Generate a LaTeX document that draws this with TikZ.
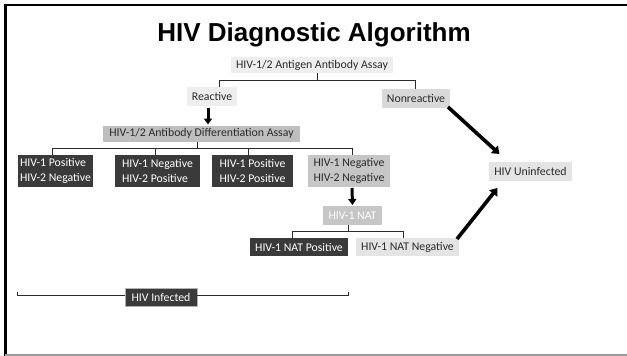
\documentclass[tikz,border=0pt]{standalone}
\usepackage{fontspec}
\setmainfont{Carlito}
\newfontfamily\titlefont{Liberation Sans}
\usetikzlibrary{arrows.meta}
\definecolor{boxdark}{HTML}{3A3A3A}
\definecolor{boxmid}{HTML}{BEBEBE}
\definecolor{boxgray}{HTML}{C6C6C6}
\definecolor{boxsoft}{HTML}{D9D9D9}
\definecolor{boxpale}{HTML}{E4E4E4}
\definecolor{boxfaint}{HTML}{EEEEEE}
\definecolor{ink}{HTML}{2B2B2B}
\tikzset{
  box/.style={rectangle, inner sep=0pt, outer sep=0pt, text=ink,
    font=\fontsize{11.8}{14.5}\selectfont, anchor=center},
  darkbox/.style={box, fill=boxdark, text=white},
  twoline/.style={align=left, minimum height=32pt},
  bracket/.style={draw=ink, line width=1pt},
  bigarrow/.style={draw=black, line width=3.6pt,
    -{Triangle[length=7pt,width=10pt]}},
  smallarrow/.style={draw=black, line width=3pt,
    -{Triangle[length=6pt,width=8pt]}}
}
\begin{document}
\begin{tikzpicture}[x=1pt,y=-1pt]
  \useasboundingbox (0,0) rectangle (627,356);
  % slide frame
  \fill[white] (0,0) rectangle (627,356);
  \draw[black, line width=2.6pt] (5.5,5) -- (627,5);
  \draw[black, line width=2.6pt] (5.5,4) -- (5.5,356);
  \draw[gray!80, line width=1.2pt] (5,355) -- (627,355);

  % title
  \node[font=\titlefont\bfseries\fontsize{26}{30}\selectfont, anchor=center]
    (title) at (314,35) {HIV Diagnostic Algorithm};

  % boxes
  \node[box, fill=boxfaint, minimum width=162pt, minimum height=16pt]
    (ag) at (312,65) {HIV-1/2 Antigen Antibody Assay};
  \node[box, fill=boxfaint, minimum width=50pt, minimum height=19pt]
    (react) at (212,96.5) {Reactive};
  \node[box, fill=boxsoft, minimum width=68pt, minimum height=19pt]
    (nonr) at (416,98.5) {Nonreactive};
  \node[box, fill=boxmid, minimum width=197pt, minimum height=16pt]
    (diff) at (201.5,133.5) {HIV-1/2 Antibody Differentiation Assay};

  \node[darkbox, twoline, minimum width=75pt] (b1) at (55.5,171)
    {HIV-1 Positive\\HIV-2 Negative};
  \node[darkbox, twoline, minimum width=85pt] (b2) at (157.5,171)
    {HIV-1 Negative\\HIV-2 Positive};
  \node[darkbox, twoline, minimum width=81pt] (b3) at (252.5,171)
    {HIV-1 Positive\\HIV-2 Positive};
  \node[box, fill=boxgray, twoline, minimum width=82pt] (b4) at (349,171)
    {HIV-1 Negative\\HIV-2 Negative};

  \node[box, fill=boxgray, text=white, minimum width=59pt, minimum height=19pt]
    (nat) at (352.5,215.5) {HIV-1 NAT};
  \node[darkbox, minimum width=98pt, minimum height=18pt]
    (natp) at (299,247) {HIV-1 NAT Positive};
  \node[box, fill=boxpale, minimum width=103pt, minimum height=18pt]
    (natn) at (407.5,247) {HIV-1 NAT Negative};

  \node[box, fill=boxpale, minimum width=83pt, minimum height=19pt]
    (unin) at (530.5,171.5) {HIV Uninfected};

  % bracket under the first assay
  \coordinate (j1) at (317,80);
  \coordinate (j1l) at (219,80);
  \coordinate (j1r) at (415,80);
  \draw[bracket] (ag.south -| j1) -- (j1);
  \draw[bracket] (react.north -| j1l) -- (j1l) -- (j1r) -- (nonr.north -| j1r);

  % bracket under the differentiation assay
  \coordinate (j2) at (197,148);
  \coordinate (j2a) at (52,148);
  \coordinate (j2b) at (155,148);
  \coordinate (j2c) at (248,148);
  \coordinate (j2d) at (352,148);
  \draw[bracket] (diff.south -| j2) -- (j2);
  \draw[bracket] (b1.north -| j2a) -- (j2a) -- (j2d) -- (b4.north -| j2d);
  \draw[bracket] (j2b) -- (b2.north -| j2b);
  \draw[bracket] (j2c) -- (b3.north -| j2c);

  % bracket under the NAT
  \coordinate (j3) at (348,231);
  \coordinate (j3l) at (292,231);
  \coordinate (j3r) at (403,231);
  \draw[bracket] (nat.south -| j3) -- (j3);
  \draw[bracket] (natp.north -| j3l) -- (j3l) -- (j3r) -- (natn.north -| j3r);

  % arrows
  \draw[smallarrow] ([xshift=-4pt,yshift=-2pt]react.south) -- ([xshift=6.5pt,yshift=1pt]diff.north);
  \draw[smallarrow] ([xshift=3pt,yshift=-1pt]b4.south) -- ([yshift=1pt]nat.north);
  \draw[bigarrow] ([xshift=-2pt,yshift=1pt]nonr.south east) -- ([xshift=-31pt,yshift=8pt]unin.north);
  \draw[bigarrow] ([xshift=-2pt,yshift=8pt]natn.east) -- ([xshift=-33pt,yshift=-7pt]unin.south);

  % span of infected results
  \node[darkbox, draw=gray!60, line width=0.6pt, minimum width=72pt, minimum height=18pt]
    (inf) at (161,297.5) {HIV Infected};
  \coordinate (sl) at (17,295);
  \coordinate (sr) at (348,295);
  \draw[ink, line width=1pt] ([yshift=3.5pt]sl) -- (sl) -- (inf.west |- sl);
  \draw[ink, line width=1pt] (inf.east |- sr) -- (sr) -- ([yshift=3.5pt]sr);
\end{tikzpicture}
\end{document}
